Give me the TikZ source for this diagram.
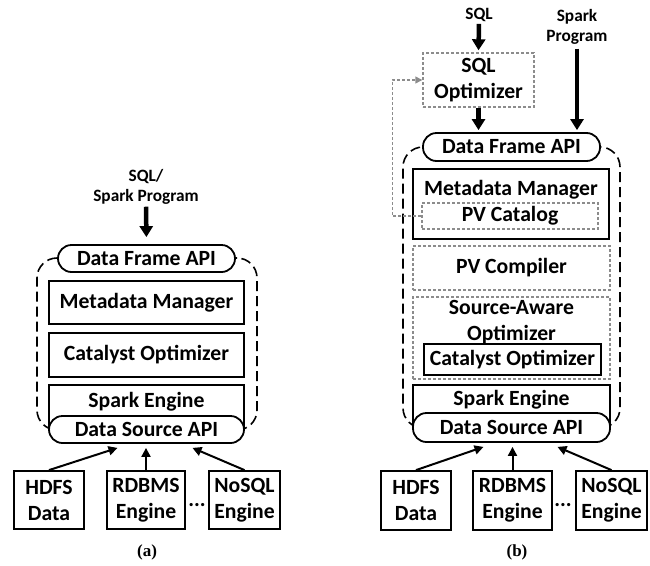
\documentclass[tikz,border=0pt]{standalone}
\usepackage{fontspec}
\newfontfamily\cf{Carlito}
\newfontfamily\capf{Liberation Serif}
\usetikzlibrary{arrows.meta}
\definecolor{dg}{RGB}{140,140,140}
\tikzset{
  txt/.style={font=\cf\bfseries\fontsize{21.7}{26}\selectfont, align=center, inner sep=0pt},
  stxt/.style={font=\cf\bfseries\fontsize{17.3}{20}\selectfont, align=center, inner sep=0pt},
  box/.style={txt, draw, line width=1.8pt, fill=white},
  gbox/.style={txt, draw=dg, line width=1.4pt, dash pattern=on 3pt off 2pt, fill=white},
  api/.style={txt, draw, line width=1.8pt, rounded corners=13.5pt, fill=white},
  cont/.style={draw, line width=1.6pt, dash pattern=on 10pt off 5pt, rounded corners=20pt},
  big/.style={line width=4.5pt, -{Triangle[width=13pt,length=11pt]}},
  src/.style={line width=2pt, -{Triangle[width=9pt,length=9pt]}},
  fb/.style={draw=dg, line width=1.4pt, dash pattern=on 3pt off 2pt, -{Triangle[width=7pt,length=7pt]}},
  captxt/.style={font=\capf\bfseries\fontsize{17}{19}\selectfont, inner sep=0pt}
}
\begin{document}
\begin{tikzpicture}[x=1pt,y=-1pt]
\useasboundingbox (0,0) rectangle (650,565);
% ---------------- (a) ----------------
\node[cont, minimum width=220pt, minimum height=172pt] (conta) at (147,344) {};
\node[stxt] (ina) at (146,187) {SQL/\\Spark Program};
\node[api, minimum width=177pt, minimum height=27pt] (dfa) at (146.5,258.5) {Data Frame API};
\node[box, minimum width=195pt, minimum height=43pt] (mma) at (146.5,302.5) {Metadata Manager};
\node[box, minimum width=195pt, minimum height=44pt] (coa) at (146.5,355) {Catalyst Optimizer};
\node[box, minimum width=195pt, minimum height=44pt] (sea) at (146.5,407) {};
\node[txt, anchor=base] (seta) at (146.5,407) {Spark Engine};
\node[api, minimum width=195pt, minimum height=27pt] (dsa) at (146.5,429.5) {Data Source API};
\node[box, minimum width=70pt, minimum height=58pt] (hdfsa) at (49,500) {HDFS\\Data};
\node[box, minimum width=78pt, minimum height=58pt] (rdba) at (146,500) {RDBMS\\Engine};
\node[box, minimum width=71pt, minimum height=58pt] (nosa) at (244.5,500) {NoSQL\\Engine};
\node[txt] (dotsa) at (197,505) {...};
\node[captxt] (capa) at (147,552) {(a)};
\draw[big, shorten <=2pt, shorten >=7pt] (ina.south) -- (dfa.north);
\draw[src] (hdfsa.north) -- ([xshift=-29pt,yshift=-4pt]dsa.south);
\draw[src] (rdba.north) -- ([yshift=-4pt]rdba.north |- dsa.south);
\draw[src] (nosa.north) -- ([xshift=46pt,yshift=-4pt]dsa.south);
% ---------------- (b) ----------------
\node[cont, minimum width=217pt, minimum height=281pt] (contb) at (511.5,287.5) {};
\node[stxt] (insql) at (479,15) {SQL};
\node[stxt] (inspk) at (577,27) {Spark\\Program};
\node[gbox, minimum width=111pt, minimum height=54pt] (sqlopt) at (478.5,80) {SQL\\Optimizer};
\node[api, minimum width=177pt, minimum height=28pt] (dfb) at (511.5,147) {Data Frame API};
\node[box, minimum width=196pt, minimum height=70pt] (mmb) at (511,204) {};
\node[txt, anchor=base] (mmtb) at (511,195) {Metadata Manager};
\node[gbox, minimum width=176pt, minimum height=26pt] (pvcat) at (510,216) {PV Catalog};
\node[gbox, minimum width=197pt, minimum height=44pt] (pvcomp) at (511.5,268) {PV Compiler};
\node[gbox, minimum width=197pt, minimum height=82pt] (sao) at (511.5,338) {};
\node[txt, anchor=base] (saot1) at (511.5,314) {Source-Aware};
\node[txt, anchor=base] (saot2) at (511.5,340) {Optimizer};
\node[box, minimum width=177pt, minimum height=31pt] (cob) at (512.5,359.5) {Catalyst Optimizer};
\node[box, minimum width=197pt, minimum height=43pt] (seb) at (511.5,406.5) {};
\node[txt, anchor=base] (setb) at (511.5,405) {Spark Engine};
\node[api, minimum width=197pt, minimum height=29pt] (dsb) at (511.5,427.5) {Data Source API};
\node[box, minimum width=70pt, minimum height=59pt] (hdfsb) at (416,500.5) {HDFS\\Data};
\node[box, minimum width=79pt, minimum height=59pt] (rdbb) at (512.5,500.5) {RDBMS\\Engine};
\node[box, minimum width=71pt, minimum height=59pt] (nosb) at (611.5,500.5) {NoSQL\\Engine};
\node[txt] (dotsb) at (563,505) {...};
\node[captxt] (capb) at (517,552) {(b)};
\draw[big, shorten <=2pt, shorten >=2pt] (insql.south) -- (sqlopt.north);
\draw[big, shorten >=2pt] (sqlopt.south) -- (sqlopt.south |- dfb.north);
\draw[big, shorten <=4pt, shorten >=2pt] (inspk.south) -- (inspk.south |- dfb.north);
\draw[fb] (pvcat.west) -- ++(-29,0) |- (sqlopt.west);
\draw[src] (hdfsb.north) -- ([xshift=-28pt,yshift=-4pt]dsb.south);
\draw[src] (rdbb.north) -- ([yshift=-4pt]rdbb.north |- dsb.south);
\draw[src] (nosb.north) -- ([xshift=46pt,yshift=-4pt]dsb.south);
\end{tikzpicture}
\end{document}
